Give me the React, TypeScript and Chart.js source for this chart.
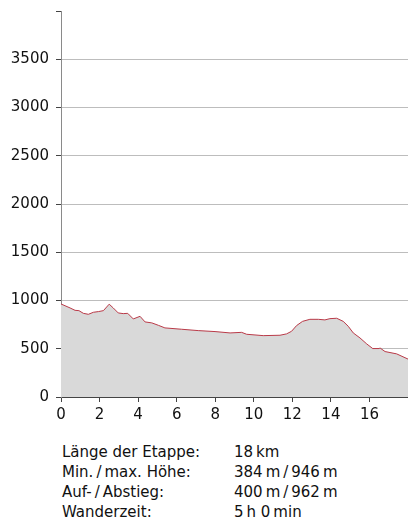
import React, { useEffect, useRef } from "react";
import { Chart, registerables } from "chart.js";

Chart.register(...registerables);

const distanceKm = [0, 0.47, 0.73, 0.93, 1.16, 1.42, 1.68, 1.94, 2.2, 2.5, 2.71, 2.97, 3.23, 3.46, 3.75, 4.1, 4.36, 4.71, 5.05, 5.39, 6.26, 7.12, 7.99, 8.77, 9.37, 9.63, 10.49, 11.36, 11.7, 11.96, 12.22, 12.53, 12.91, 13.35, 13.69, 13.95, 14.3, 14.64, 14.9, 15.16, 15.51, 15.86, 16.17, 16.5, 16.55, 16.81, 17.41, 18];
const elevationM = [964, 923, 898, 895, 867, 857, 878, 885, 895, 962, 923, 871, 864, 867, 809, 836, 778, 768, 743, 716, 702, 688, 678, 664, 670, 650, 636, 640, 654, 681, 740, 784, 805, 805, 799, 812, 816, 784, 733, 664, 612, 550, 502, 502, 508, 471, 447, 393];
const yTicks = [0, 500, 1000, 1500, 2000, 2500, 3000, 3500];
const xTicks = [0, 2, 4, 6, 8, 10, 12, 14, 16];
const infoLabels = ["Länge der Etappe:", "Min.\u2009/\u2009max. Höhe:", "Auf-\u2009/\u2009Abstieg:", "Wanderzeit:"];
const infoValues = ["18\u2009km", "384\u2009m\u2009/\u2009946\u2009m", "400\u2009m\u2009/\u2009962\u2009m", "5\u2009h 0\u2009min"];

const FONT = "'DejaVu Sans', sans-serif";

export default function App() {
  const ref = useRef<HTMLCanvasElement | null>(null);

  useEffect(() => {
    document.body.style.margin = "0";
    if (!ref.current) return;
    const points = distanceKm.map((x, i) => ({ x, y: elevationM[i] }));
    const chart = new Chart(ref.current, {
      type: "line",
      data: {
        datasets: [
          {
            data: points,
            borderColor: "#b93a48",
            borderWidth: 1,
            backgroundColor: "#d9d9d9",
            fill: "origin",
            pointRadius: 0,
            tension: 0,
          },
        ],
      },
      options: {
        animation: false,
        responsive: false,
        maintainAspectRatio: false,
        layout: { padding: { top: 0, right: 0, left: 0, bottom: 0 } },
        plugins: { legend: { display: false }, tooltip: { enabled: false } },
        scales: {
          x: {
            type: "linear",
            min: 0,
            max: 18,
            afterBuildTicks: (scale: any) => {
              scale.ticks = xTicks.map((v) => ({ value: v }));
            },
            afterFit: (scale: any) => {
              scale.height = 33;
            },
            ticks: {
              color: "#111",
              font: { family: FONT, size: 15 },
              padding: 4,
              maxRotation: 0,
              autoSkip: false,
            },
            grid: {
              drawOnChartArea: false,
              drawTicks: true,
              tickLength: 5,
              tickColor: "#444",
            },
            border: { color: "#444", width: 1 },
          },
          y: {
            min: 0,
            max: 4000,
            afterBuildTicks: (scale: any) => {
              scale.ticks = [...yTicks, 4000].map((v) => ({ value: v }));
            },
            afterFit: (scale: any) => {
              scale.width = 61;
            },
            ticks: {
              color: "#111",
              font: { family: FONT, size: 15 },
              padding: 7,
              callback: (v: any) => (v === 4000 ? "" : String(v)),
            },
            grid: {
              color: (ctx: any) => (ctx.tick && ctx.tick.value === 4000 ? "rgba(0,0,0,0)" : "#bdbdbd"),
              tickLength: 5,
              tickColor: "#444",
            },
            border: { color: "#8a8a8a", width: 1 },
          },
        },
      },
    });
    return () => chart.destroy();
  }, []);

  return (
    <div style={{ position: "relative", width: 408, height: 531, fontFamily: FONT, overflow: "hidden" }}>
      <canvas ref={ref} width={408} height={435} style={{ position: "absolute", left: 0, top: -5, width: 408, height: 435 }} />
      <div style={{ position: "absolute", left: 62, top: 442, fontSize: 15, lineHeight: "20px", color: "#111" }}>
        {infoLabels.map((l) => (
          <div key={l} style={{ whiteSpace: "nowrap" }}>{l}</div>
        ))}
      </div>
      <div style={{ position: "absolute", left: 234, top: 442, fontSize: 15, lineHeight: "20px", color: "#111" }}>
        {infoValues.map((l) => (
          <div key={l} style={{ whiteSpace: "nowrap" }}>{l}</div>
        ))}
      </div>
    </div>
  );
}
